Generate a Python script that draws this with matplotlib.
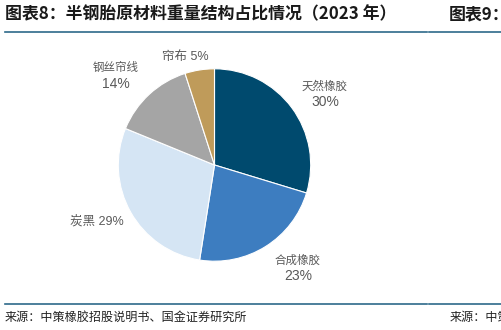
import matplotlib
matplotlib.use("Agg")
import matplotlib.pyplot as plt
from matplotlib.lines import Line2D

plt.rcParams['font.family'] = ['Noto Sans CJK SC', 'DejaVu Sans']

categories = ["天然橡胶", "合成橡胶", "炭黑", "钢丝帘线", "帘布"]
values = [30, 23, 29, 14, 5]
colors = ["#004A6E", "#3D7DC0", "#D5E5F4", "#A5A5A5", "#BF9B5A"]
title = "图表8：半钢胎原材料重量结构占比情况（2023 年）"
title2 = "图表9："
source = "来源：中策橡胶招股说明书、国金证券研究所"
source2 = "来源：中策"

W, H = 501, 330
fig = plt.figure(figsize=(W / 100, H / 100), dpi=100)

def px(x, y):
    return x / W, 1 - y / H

# pie axes
cx, cy, r = 214.5, 165.0, 96.2
ax = fig.add_axes([(cx - r) / W, 1 - (cy + r) / H, 2 * r / W, 2 * r / H])
ax.pie(values, colors=colors, startangle=90, counterclock=False,
       wedgeprops=dict(edgecolor="white", linewidth=0.8))
ax.set_xlim(-1, 1)
ax.set_ylim(-1, 1)
ax.set_aspect("equal")
ax.axis("off")

lab_color = "#595959"
mixed = ['Liberation Sans', 'Noto Sans CJK SC']
# label positions (pixels) for each category
pos = {
    "天然橡胶": (325, 86, "two"),
    "合成橡胶": (298, 260, "two"),
    "炭黑": (97, 221, "one"),
    "钢丝帘线": (116, 68, "two"),
    "帘布": (185, 57, "one"),
}
for cat, v in zip(categories, values):
    x, y, mode = pos[cat]
    if mode == "two":
        fig.text(*px(x, y), cat, fontsize=8.3, color=lab_color, ha="center", va="center")
        fig.text(*px(x, y + 15.5), f"{v}%", fontsize=10, color=lab_color,
                 ha="center", va="center", family="Liberation Sans")
    else:
        fig.text(*px(x, y), f"{cat} {v}%", fontsize=9, color=lab_color,
                 ha="center", va="center", family=mixed)

# title
fig.text(*px(5, 14.5), title, fontsize=12.2, fontweight="bold",
         color="#1a1a1a", ha="left", va="center")
fig.text(*px(449, 14.5), title2, fontsize=12.2, fontweight="bold",
         color="#1a1a1a", ha="left", va="center")

line_color = "#2E6A8A"
for yy in (31.5, 304.3):
    fig.add_artist(Line2D([5 / W, 427 / W], [1 - yy / H] * 2, color=line_color, lw=1.2))
    fig.add_artist(Line2D([429 / W, 1], [1 - yy / H] * 2, color=line_color, lw=1.2))

fig.text(*px(5, 317.5), source, fontsize=8.7, color="#222222", ha="left", va="center")
fig.text(*px(450, 317.5), source2, fontsize=8.7, color="#222222", ha="left", va="center")

fig.savefig("out.png", dpi=100)
